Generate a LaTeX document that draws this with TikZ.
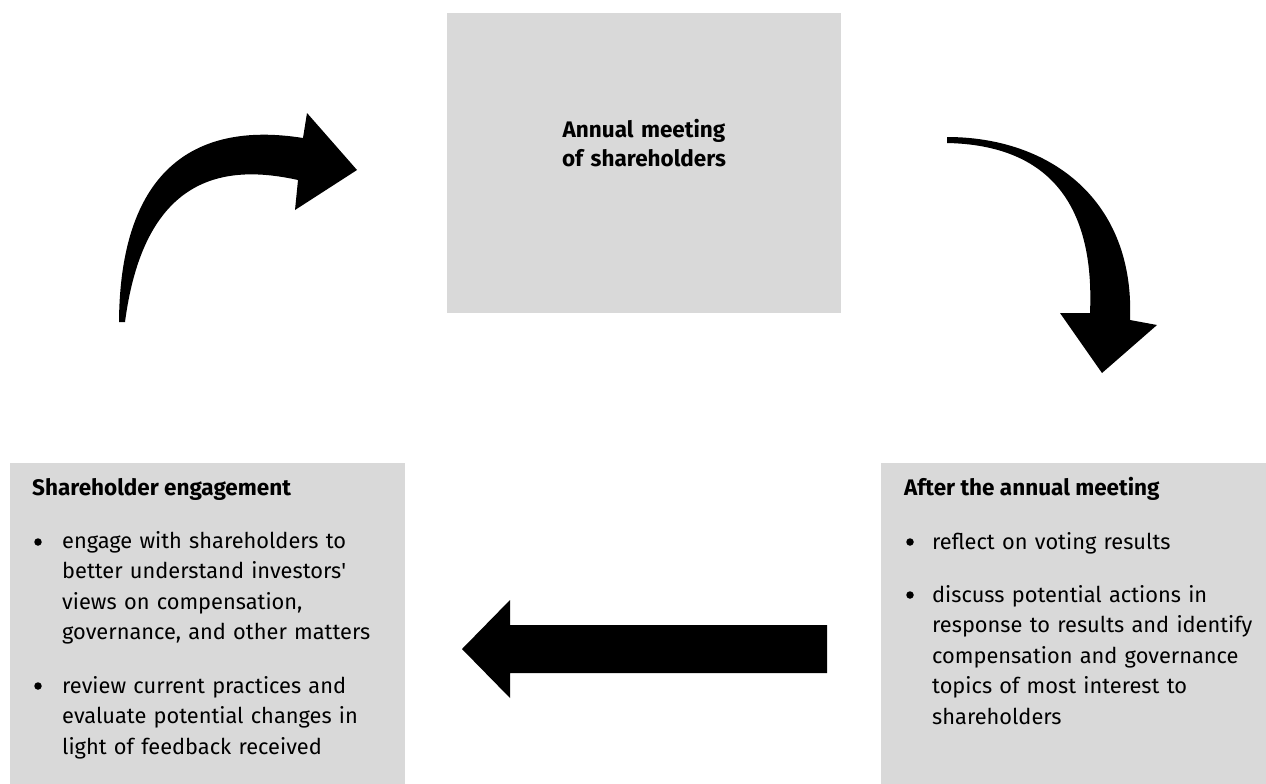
\documentclass[tikz,border=0pt]{standalone}
\usepackage{fontspec}
\setmainfont{Fira Sans}
\definecolor{boxgray}{HTML}{D9D9D9}
\begin{document}
\begin{tikzpicture}[x=1pt,y=-1pt,
  box/.style={fill=boxgray,draw=none,inner sep=0pt,anchor=north west},
  ttl/.style={font=\fontsize{22.5}{29}\selectfont\bfseries,inner sep=0pt,anchor=base west},
  itm/.style={font=\fontsize{21.8}{30.5}\selectfont,inner sep=0pt,anchor=base west,text width=360pt,align=left},
  bul/.style={circle,fill=black,inner sep=0pt,minimum size=7.5pt},
  blk/.style={fill=black,draw=none}]
\useasboundingbox (0,0) rectangle (1266,784);
% boxes
\node[box,minimum width=394pt,minimum height=300pt] (top) at (447,13) {};
\node[box,minimum width=395pt,minimum height=321pt] (left) at (10,463) {};
\node[box,minimum width=385pt,minimum height=321pt] (right) at (881,463) {};
% top text
\node[font=\fontsize{22.5}{29}\selectfont\bfseries,inner sep=0pt,anchor=base,text width=260pt,align=center] (toptext) at (644,137) {Annual meeting\\of shareholders};
% left box
\node[ttl] (ltitle) at (32,495) {Shareholder engagement};
\node[bul] (lb1) at (38,542) {};
\node[itm] (li1) at (62,548) {engage with shareholders to\\better understand investors\textquotesingle\\views on compensation,\\governance, and other matters};
\node[bul] (lb2) at (38,686) {};
\node[itm] (li2) at (62,693) {review current practices and\\evaluate potential changes in\\light of feedback received};
% right box
\node[ttl] (rtitle) at (904,495) {After the annual meeting};
\node[bul] (rb1) at (910,542) {};
\node[itm] (ri1) at (932,549) {reflect on voting results};
\node[bul] (rb2) at (910,595) {};
\node[itm] (ri2) at (932,602) {discuss potential actions in\\response to results and identify\\compensation and governance\\topics of most interest to\\shareholders};
% curved arrow top-left
\fill[blk] (119,322) .. controls (120,175) and (190,120) .. (303,138)
  -- (307,113) -- (357,170) -- (295,210) -- (298,180)
  .. controls (230,165) and (145,170) .. (125,322) -- cycle;
% curved arrow top-right
\fill[blk] (947,137) .. controls (1050,137) and (1135,200) .. (1130,320)
  -- (1157,325) -- (1102,373) -- (1060,313) -- (1090,313)
  .. controls (1095,200) and (1045,145) .. (947,143) -- cycle;
% straight arrow bottom
\fill[blk] (827,625) -- (510,625) -- (510,600) -- (462,649) -- (510,698) -- (510,673) -- (827,673) -- cycle;
\end{tikzpicture}
\end{document}
